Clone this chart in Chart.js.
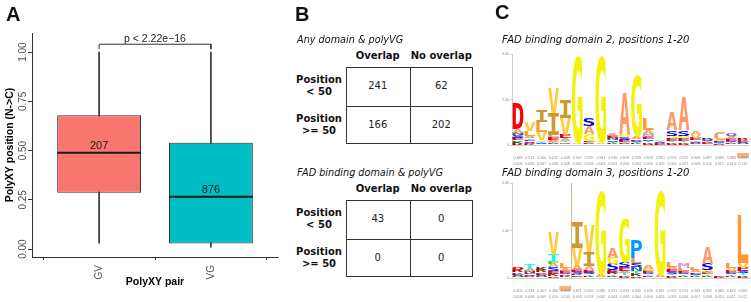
<!DOCTYPE html>
<html>
<head>
<meta charset="utf-8">
<script src="https://cdn.jsdelivr.net/npm/chart.js@4.4.0/dist/chart.umd.min.js"></script>
<style>
	body { margin: 0; width: 751px; height: 302px; position: relative; overflow: hidden; background: #fff; font-family: "DejaVu Sans", sans-serif; color: #111; }
	canvas { position: absolute; }
	.abs { position: absolute; white-space: nowrap; }
	.tag { font: bold 20px "Liberation Sans", Arial, sans-serif; line-height: 20px; z-index: 2; }
	.sub { font-style: italic; font-size: 9.7px; line-height: 12px; z-index: 2; }
	.hd { font-weight: bold; font-size: 10px; line-height: 12px; text-align: center; }
	.cell { font-size: 10px; line-height: 12px; text-align: center; color: #222; }
	.line { background: #333; }
</style>
</head>
<body>
<div class="abs tag" style="left:6px;top:4px">A</div>
<div class="abs tag" style="left:295px;top:4px">B</div>
<div class="abs tag" style="left:495px;top:2px">C</div>
<canvas id="boxplot" width="282" height="302" style="left:0;top:0"></canvas>
<div id="tables"></div>
<div class="abs sub" style="left:502px;top:34px;font-size:10px">FAD binding domain 2, positions 1-20</div>
<div class="abs sub" style="left:502px;top:167px;font-size:10px">FAD binding domain 3, positions 1-20</div>
<canvas id="logo1" width="256" height="122" style="left:495px;top:44px"></canvas>
<canvas id="logo2" width="256" height="125" style="left:495px;top:174px"></canvas>
<script>
// ---------------------------------------------------------
// Data
// ---------------------------------------------------------

// Panel A: box plot
const pairs = ["GV", "VG"];
const whiskerLow = [0.03, 0.01];
const boxLow = [0.286, 0.029];
const medians = [0.489, 0.266];
const boxHigh = [0.68, 0.54];
const whiskerHigh = [1.0, 1.0];
const counts = [207, 876];
const yTicks = [0, 0.25, 0.5, 0.75, 1];
const pText = "p < 2.22e\u221216";
const bracketLow = 1.015;
const bracketHigh = 1.04;

// Panel B: contingency tables
const tableCols = ["Overlap", "No overlap"];
const tableRows = [["Position", "< 50"], ["Position", ">= 50"]];
const tableAny = [[241, 62], [166, 202]];
const tableFad = [[43, 0], [0, 0]];

// Panel C: sequence logos (letters bottom -> top, heights in bits)
const positions = ["1", "2", "3", "4", "5", "6", "7", "8", "9", "10", "11", "12", "13", "14", "15", "16", "17", "18", "19", "20"];
const logoTicks = [0, 2, 4];

const logo1Letters = ["RKTESNAD", "KDSETALV", "NSTAVLI", "KDTAELIV", "SCTAEVI", "SAG", "KDTEGAS", "SAG", "DKTSNEA", "KDTESGA",
	"DKTSEAG", "DKTSEMAL", "KEDSTA", "DKTEGSA", "DKTEGSA", "KDSTEVA", "KEDTSNR", "KDTSEAC", "KDTSEAQ", "TNSEKDR"];
const logo1Heights = [
	[0.06, 0.08, 0.08, 0.1, 0.1, 0.12, 0.16, 1.15],
	[0.05, 0.05, 0.06, 0.06, 0.08, 0.1, 0.2, 0.4],
	[0.04, 0.05, 0.06, 0.07, 0.35, 0.44, 0.53],
	[0.04, 0.05, 0.06, 0.08, 0.1, 0.11, 0.97, 1.1],
	[0.05, 0.06, 0.08, 0.12, 0.14, 0.75, 0.78],
	[0.03, 0.06, 3.87],
	[0.03, 0.04, 0.05, 0.06, 0.3, 0.35, 0.37],
	[0.03, 0.06, 3.87],
	[0.04, 0.05, 0.06, 0.07, 0.08, 0.1, 0.13],
	[0.04, 0.05, 0.06, 0.08, 0.1, 0.12, 1.85],
	[0.03, 0.04, 0.05, 0.06, 0.07, 0.1, 2.73],
	[0.05, 0.06, 0.07, 0.08, 0.1, 0.14, 0.16, 0.53],
	[0.02, 0.03, 0.03, 0.04, 0.05, 0.05],
	[0.05, 0.06, 0.08, 0.1, 0.12, 0.25, 0.8],
	[0.05, 0.06, 0.08, 0.1, 0.12, 0.25, 1.45],
	[0.04, 0.05, 0.06, 0.07, 0.09, 0.11, 0.14],
	[0.03, 0.04, 0.04, 0.05, 0.06, 0.06, 0.07],
	[0.02, 0.03, 0.03, 0.04, 0.05, 0.05, 0.35],
	[0.03, 0.04, 0.05, 0.06, 0.08, 0.12, 0.15],
	[0.03, 0.04, 0.05, 0.05, 0.05, 0.06, 0.07],
];
const logo1Occ = ["0.489", "0.512", "0.560", "0.611", "0.648", "0.907", "0.925", "0.931", "0.930", "0.928", "0.926", "0.923", "0.920", "0.916", "0.912", "0.908", "0.897", "0.889", "0.884", "0.861"];
const logo1Ins = ["0.006", "0.006", "0.007", "0.008", "0.008", "0.002", "0.003", "0.003", "0.003", "0.004", "0.004", "0.004", "0.005", "0.006", "0.007", "0.008", "0.010", "0.012", "0.014", "0.130"];
const logo1Len = ["1.8", "1.9", "1.9", "2.0", "2.1", "1.6", "1.5", "1.5", "1.6", "1.6", "1.7", "1.8", "1.8", "1.9", "2.0", "2.1", "2.2", "2.4", "2.5", "7.3"];

const logo2Letters = ["TNSEKRD", "KDSENAT", "TNSEDRK", "DKESAFTV", "NKDSEAL", "TDKSEAVI", "DKTSEAIV", "SAG", "DKTRESGA", "DKTAESG",
	"DKTNSLP", "KDTSEGA", "SAG", "DKTSEAL", "DKTSELM", "DKTSEAL", "DKTEGSA", "SKE", "DKTSEVL", "DKTSEVL"];
const logo2Heights = [
	[0.03, 0.04, 0.05, 0.06, 0.07, 0.08, 0.09],
	[0.04, 0.05, 0.06, 0.07, 0.08, 0.1, 0.15],
	[0.03, 0.04, 0.05, 0.06, 0.07, 0.08, 0.09],
	[0.08, 0.1, 0.12, 0.15, 0.15, 0.12, 0.25, 0.97],
	[0.04, 0.05, 0.06, 0.07, 0.08, 0.13, 0.2],
	[0.05, 0.06, 0.07, 0.08, 0.09, 0.2, 0.7, 1.1],
	[0.04, 0.05, 0.06, 0.08, 0.1, 0.17, 0.6, 1.14],
	[0.04, 0.08, 3.6],
	[0.04, 0.05, 0.06, 0.08, 0.12, 0.25, 0.25, 0.42],
	[0.05, 0.06, 0.08, 0.1, 0.16, 0.2, 1.85],
	[0.08, 0.1, 0.12, 0.15, 0.18, 0.22, 0.76],
	[0.04, 0.05, 0.06, 0.07, 0.08, 0.1, 0.15],
	[0.04, 0.08, 3.6],
	[0.05, 0.06, 0.07, 0.08, 0.1, 0.12, 0.2],
	[0.04, 0.05, 0.06, 0.07, 0.09, 0.12, 0.2],
	[0.03, 0.04, 0.05, 0.06, 0.07, 0.08, 0.13],
	[0.04, 0.05, 0.06, 0.08, 0.1, 0.25, 0.72],
	[0.01, 0.02, 0.02],
	[0.04, 0.05, 0.06, 0.07, 0.09, 0.12, 0.2],
	[0.05, 0.06, 0.08, 0.1, 0.14, 0.22, 2.0],
];
const logo2Occ = ["0.402", "0.433", "0.457", "0.480", "0.498", "0.871", "0.902", "0.930", "0.931", "0.933", "0.930", "0.926", "0.931", "0.922", "0.915", "0.909", "0.902", "0.880", "0.874", "0.866"];
const logo2Ins = ["0.008", "0.008", "0.009", "0.010", "0.140", "0.003", "0.003", "0.002", "0.003", "0.003", "0.004", "0.004", "0.003", "0.005", "0.006", "0.007", "0.008", "0.010", "0.011", "0.012"];
const logo2Len = ["1.9", "2.0", "2.0", "2.1", "8.6", "1.5", "1.5", "1.4", "1.5", "1.5", "1.6", "1.6", "1.5", "1.7", "1.8", "1.9", "2.0", "2.1", "2.2", "2.3"];

const letterColors = {
	A: "#FF9966", C: "#F0A060", D: "#FF0000", E: "#CC0033", F: "#00FF00", G: "#F2F20C", H: "#660033",
	I: "#CC9933", K: "#663300", L: "#FF9933", M: "#CC99CC", N: "#336666", P: "#0099FF", Q: "#6666CC",
	R: "#990000", S: "#0000FF", T: "#00FFFF", V: "#FFCC33", W: "#66CC66", Y: "#006600",
};

Chart.defaults.font.family = '"Liberation Sans", Arial, sans-serif';
Chart.defaults.animation = false;
Chart.defaults.responsive = false;
Chart.defaults.plugins.legend.display = false;
Chart.defaults.plugins.tooltip.enabled = false;

//---------------------------------------------------------
// Panel A
//---------------------------------------------------------

// Rotated y tick labels, box counts and p-value text
const boxText = {
	id: "boxText",
	afterDraw(chart) {
		const { ctx, chartArea, scales } = chart;
		const x = scales.x, y = scales.y;
		ctx.save();
		ctx.font = '10px "Liberation Sans"';
		ctx.fillStyle = "#4d4d4d";
		ctx.textAlign = "center";
		ctx.textBaseline = "middle";
		yTicks.forEach((v) => {
			ctx.save();
			ctx.translate(chartArea.left - 9, y.getPixelForValue(v));
			ctx.rotate(-Math.PI / 2);
			ctx.fillText(v.toFixed(2), 0, 0);
			ctx.restore();
		});
		ctx.textBaseline = "alphabetic";
		ctx.fillStyle = "#1a1a1a";
		ctx.font = '11px "Liberation Sans"';
		counts.forEach((n, i) => {
			ctx.fillText(String(n), x.getPixelForValue(i), y.getPixelForValue(medians[i]) - 3.5);
		});
		ctx.font = '10.5px "Liberation Sans"';
		const mid = (x.getPixelForValue(0) + x.getPixelForValue(1)) / 2;
		ctx.fillText(pText, mid, y.getPixelForValue(bracketHigh) - 2.5);
		ctx.restore();
	},
};

new Chart(document.getElementById("boxplot"), {
	type: "bar",
	data: {
		datasets: [
			{
				// p-value bracket
				type: "line",
				data: [
					{ x: 0, y: bracketLow },
					{ x: 0, y: bracketHigh },
					{ x: 1, y: bracketHigh },
					{ x: 1, y: bracketLow },
				],
				borderColor: "#333",
				borderWidth: 1,
				pointRadius: 0,
				order: 0,
			},
			{
				// medians
				data: pairs.map((_, i) => ({ x: i, y: [medians[i] - 0.005, medians[i] + 0.005] })),
				backgroundColor: "#1a1a1a",
				grouped: false,
				barPercentage: 0.75,
				categoryPercentage: 1,
				order: 1,
			},
			{
				// boxes
				data: pairs.map((_, i) => ({ x: i, y: [boxLow[i], boxHigh[i]] })),
				backgroundColor: ["#F8766D", "#00BFC4"],
				borderColor: "#333",
				borderWidth: 1,
				borderSkipped: false,
				grouped: false,
				barPercentage: 0.75,
				categoryPercentage: 1,
				order: 2,
			},
			{
				// whiskers
				data: pairs.map((_, i) => ({ x: i, y: [whiskerLow[i], whiskerHigh[i]] })),
				backgroundColor: "#333",
				barThickness: 1,
				grouped: false,
				order: 3,
			},
		],
	},
	options: {
		layout: { padding: { top: 33, right: 4, bottom: 10, left: 0 } },
		scales: {
			x: {
				type: "linear",
				min: -0.6,
				max: 1.6,
				offset: false,
				border: { color: "#333" },
				grid: { drawOnChartArea: false, tickLength: 3, color: "#333" },
				afterBuildTicks: (s) => { s.ticks = pairs.map((_, i) => ({ value: i })); },
				ticks: {
					color: "#4d4d4d", font: { size: 10 }, minRotation: 90, maxRotation: 90, padding: 5,
					callback: (v) => pairs[v],
				},
				title: { display: true, text: "PolyXY pair", color: "#000", font: { size: 10.5, weight: "bold" }, padding: { top: 0, bottom: 4 } },
				afterFit: (s) => { s.height = 35; },
			},
			y: {
				min: -0.04,
				max: 1.097,
				border: { color: "#333" },
				grid: { drawOnChartArea: false, tickLength: 4, color: "#333" },
				ticks: { display: false },
				afterBuildTicks: (s) => { s.ticks = yTicks.map((v) => ({ value: v })); },
				title: { display: true, text: "PolyXY position (N->C)", color: "#000", font: { size: 10.5, weight: "bold" } },
				afterFit: (s) => { s.width = 32; },
			},
		},
	},
	plugins: [boxText],
});

//---------------------------------------------------------
// Panel B
//---------------------------------------------------------

const buildTable = (title, values, top) => {
	const el = document.getElementById("tables");
	const add = (cls, style, text) => {
		const d = document.createElement("div");
		d.className = "abs " + cls;
		d.style.cssText = style;
		d.textContent = text;
		el.appendChild(d);
	};
	const left = 346, colW = 63.5, rowH = 38.5, gridTop = top + 67;
	add("sub", `left:297px;top:${top + 34}px`, title);
	tableCols.forEach((c, j) => add("hd", `left:${left + j * colW}px;top:${top + 50}px;width:${colW}px`, c));
	tableRows.forEach((r, i) => {
		const d = document.createElement("div");
		d.className = "abs hd";
		d.style.cssText = `left:289px;top:${gridTop + i * rowH + 7}px;width:60px`;
		d.innerHTML = r[0] + "<br>" + r[1].replace("<", "&lt;").replace(">", "&gt;");
		el.appendChild(d);
		values[i].forEach((v, j) => add("cell", `left:${left + j * colW}px;top:${gridTop + i * rowH + 13}px;width:${colW}px`, String(v)));
	});
	add("", `left:${left}px;top:${gridTop}px;width:${2 * colW - 2}px;height:${2 * rowH - 2}px;border:1px solid #333`, "");
	add("line", `left:${left + colW}px;top:${gridTop}px;width:1px;height:${2 * rowH}px`, "");
	add("line", `left:${left}px;top:${gridTop + rowH}px;width:${2 * colW}px;height:1px`, "");
};
buildTable("Any domain & polyVG", tableAny, 0);
buildTable("FAD binding domain & polyVG", tableFad, 133);

//---------------------------------------------------------
// Panel C
//---------------------------------------------------------

// Letters stretched into each stacked bar
const glyphBox = {};
const drawGlyph = (ctx, ch, x, y, w, h) => {
	ctx.save();
	ctx.font = 'bold 100px "DejaVu Sans Mono"';
	ctx.textAlign = "left";
	ctx.textBaseline = "alphabetic";
	if (!glyphBox[ch]) {
		const m = ctx.measureText(ch);
		glyphBox[ch] = {
			l: m.actualBoundingBoxLeft,
			a: m.actualBoundingBoxAscent,
			w: m.actualBoundingBoxLeft + m.actualBoundingBoxRight,
			h: m.actualBoundingBoxAscent + m.actualBoundingBoxDescent,
		};
	}
	const g = glyphBox[ch];
	ctx.translate(x, y);
	ctx.scale(w / g.w, h / g.h);
	ctx.fillStyle = letterColors[ch] || "#888";
	ctx.fillText(ch, g.l, g.a);
	ctx.restore();
};

const logoPlugin = {
	id: "logo",
	beforeDraw(chart, args, opts) {
		const { ctx, chartArea, scales } = chart;
		const colW = scales.x.getPixelForValue(1) - scales.x.getPixelForValue(0);
		ctx.save();
		ctx.fillStyle = "#f6b27a";
		const cx = scales.x.getPixelForValue(opts.mark);
		ctx.fillRect(cx - colW / 2, chartArea.bottom + 8, colW, 5);
		if (opts.divider != null) {
			ctx.strokeStyle = "#d8b48a";
			ctx.lineWidth = 1;
			const dx = Math.round(cx - colW / 2 + colW) + 0.5;
			ctx.beginPath();
			ctx.moveTo(dx, chartArea.top);
			ctx.lineTo(dx, chartArea.bottom);
			ctx.stroke();
		}
		ctx.restore();
	},
	afterDatasetsDraw(chart, args, opts) {
		const ctx = chart.ctx;
		chart.data.datasets.forEach((ds, k) => {
			chart.getDatasetMeta(k).data.forEach((bar, c) => {
				const ch = opts.letters[c][k];
				if (!ch) return;
				const p = bar.getProps(["x", "y", "base", "width"], true);
				const h = Math.abs(p.base - p.y);
				if (h < 0.4) return;
				drawGlyph(ctx, ch, p.x - p.width / 2, Math.min(p.y, p.base), p.width, h);
			});
		});
	},
};

const tinyFont = { size: 3.6, lineHeight: 1.65 };

const logoChart = (id, letters, heights, occ, ins, len, topH, mark, divider) => {
	const layers = Math.max(...heights.map((h) => h.length));
	const datasets = Array.from({ length: layers }, (_, k) => ({
		data: heights.map((h) => h[k] || 0),
		backgroundColor: "rgba(0,0,0,0)",
		borderWidth: 0,
		barPercentage: 0.92,
		categoryPercentage: 1,
	}));
	return new Chart(document.getElementById(id), {
		type: "bar",
		data: { labels: positions, datasets },
		options: {
			layout: { padding: { top: 0, right: 2, bottom: 0, left: 0 } },
			scales: {
				x: {
					stacked: true,
					border: { color: "#d0d0d0" },
					grid: { display: false },
					ticks: {
						autoSkip: false, maxRotation: 0, color: "#8a8a8a", font: tinyFont, padding: 2,
						callback: (v, i) => [occ[i], ins[i], len[i]],
					},
					afterFit: (s) => { s.height = 21; },
				},
				x2: {
					type: "category",
					labels: positions,
					position: "top",
					offset: true,
					border: { display: false },
					grid: { display: false },
					ticks: { autoSkip: false, maxRotation: 0, color: "#a0a0a0", font: tinyFont, padding: 1 },
					afterFit: (s) => { s.height = topH; },
				},
				y: {
					stacked: true,
					min: 0,
					max: 4,
					border: { color: "#cfcfcf" },
					grid: { drawOnChartArea: false, tickLength: 2, color: "#cfcfcf" },
					afterBuildTicks: (s) => { s.ticks = logoTicks.map((v) => ({ value: v })); },
					ticks: { color: "#8a8a8a", font: tinyFont, padding: 1, callback: (v) => (v === 0 ? "0" : v.toFixed(2)) },
					afterFit: (s) => { s.width = 17; },
				},
			},
			plugins: { logo: { letters, mark, divider } },
		},
		plugins: [logoPlugin],
	});
};

logoChart("logo1", logo1Letters, logo1Heights, logo1Occ, logo1Ins, logo1Len, 10, 19, null);
logoChart("logo2", logo2Letters, logo2Heights, logo2Occ, logo2Ins, logo2Len, 9, 4, 4);
</script>
</body>
</html>
